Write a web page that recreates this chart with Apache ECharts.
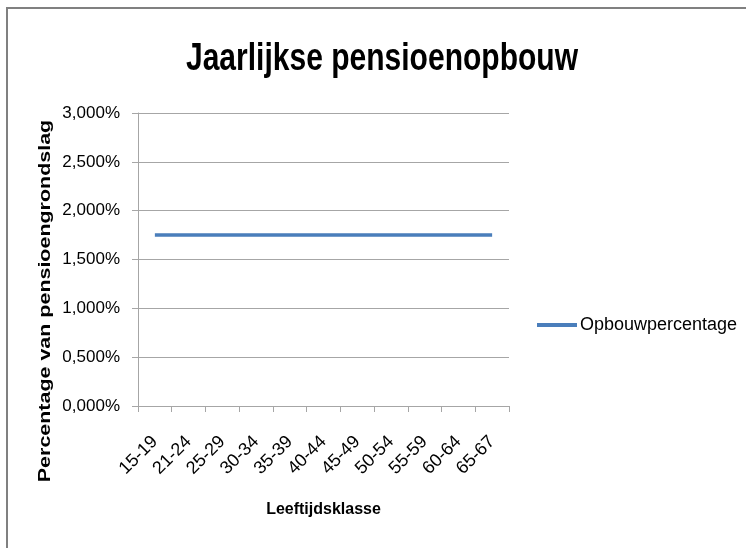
<!DOCTYPE html>
<html>
<head>
<meta charset="utf-8">
<script src="https://cdn.jsdelivr.net/npm/echarts@6/dist/echarts.min.js"></script>
<style>
  html, body { margin: 0; padding: 0; background: #fff; }
  #chart { width: 746px; height: 548px; }
</style>
</head>
<body>
<div id="chart"></div>
<script>
// Leeftijdsklassen en het jaarlijkse opbouwpercentage per klasse
const leeftijdsklassen = ['15-19', '21-24', '25-29', '30-34', '35-39', '40-44', '45-49', '50-54', '55-59', '60-64', '65-67'];
const opbouwpercentage = [0.0175, 0.0175, 0.0175, 0.0175, 0.0175, 0.0175, 0.0175, 0.0175, 0.0175, 0.0175, 0.0175];
const yMin = 0, yMax = 0.03, yStap = 0.005;

const font = '"Liberation Sans", Arial, sans-serif';
const chart = echarts.init(document.getElementById('chart'), null, { renderer: 'canvas' });

chart.setOption({
  animation: false,
  backgroundColor: '#ffffff',
  graphic: [
    {
      // kader rond de grafiek
      type: 'rect',
      shape: { x: 7, y: 8, width: 900, height: 700 },
      style: { fill: 'none', stroke: '#808080', lineWidth: 2 },
      silent: true
    },
    {
      // titel, smal gezet
      type: 'text',
      x: 382, y: 60, scaleX: 0.79,
      style: {
        text: 'Jaarlijkse pensioenopbouw',
        x: 0, y: 0,
        textAlign: 'center', textVerticalAlign: 'middle',
        font: 'bold 38px ' + font,
        fill: '#000'
      }
    },
    {
      // titel van de verticale as
      type: 'text',
      x: 45, y: 301, rotation: Math.PI / 2, scaleX: 1.3,
      style: {
        text: 'Percentage van pensioengrondslag',
        x: 0, y: 0,
        textAlign: 'center', textVerticalAlign: 'middle',
        font: 'bold 16.5px ' + font,
        fill: '#000'
      }
    }
  ],
  legend: {
    left: 537,
    top: 316,
    padding: 0,
    icon: 'rect',
    itemWidth: 40,
    itemHeight: 4,
    itemGap: 0,
    textStyle: { fontFamily: font, fontSize: 18, color: '#000', padding: [0, 0, 0, -2] },
    data: ['Opbouwpercentage']
  },
  grid: { left: 138, top: 113, width: 371, height: 293, containLabel: false },
  xAxis: {
    type: 'category',
    data: leeftijdsklassen,
    boundaryGap: true,
    name: 'Leeftijdsklasse',
    nameLocation: 'middle',
    nameGap: 96,
    nameTextStyle: { fontFamily: font, fontWeight: 'bold', fontSize: 16, color: '#000' },
    axisLine: { lineStyle: { color: '#a6a6a6', width: 1 } },
    axisTick: { show: true, alignWithLabel: false, length: 6, lineStyle: { color: '#a6a6a6' } },
    axisLabel: { rotate: 45, margin: 33, fontFamily: font, fontSize: 18, color: '#000', interval: 0 },
    splitLine: { show: false }
  },
  yAxis: {
    type: 'value',
    min: yMin,
    max: yMax,
    interval: yStap,
    axisLine: { show: true, lineStyle: { color: '#a6a6a6', width: 1 } },
    axisTick: { show: true, length: 6, lineStyle: { color: '#a6a6a6' } },
    axisLabel: {
      margin: 18,
      fontFamily: font,
      fontSize: 17,
      color: '#000',
      formatter: v => (v * 100).toFixed(3).replace('.', ',') + '%'
    },
    splitLine: { show: true, lineStyle: { color: '#a6a6a6', width: 1 } }
  },
  series: [{
    name: 'Opbouwpercentage',
    type: 'line',
    data: opbouwpercentage,
    showSymbol: false,
    symbol: 'none',
    lineStyle: { color: '#4a7ebb', width: 3.5 },
    itemStyle: { color: '#4a7ebb' }
  }]
});
</script>
</body>
</html>
